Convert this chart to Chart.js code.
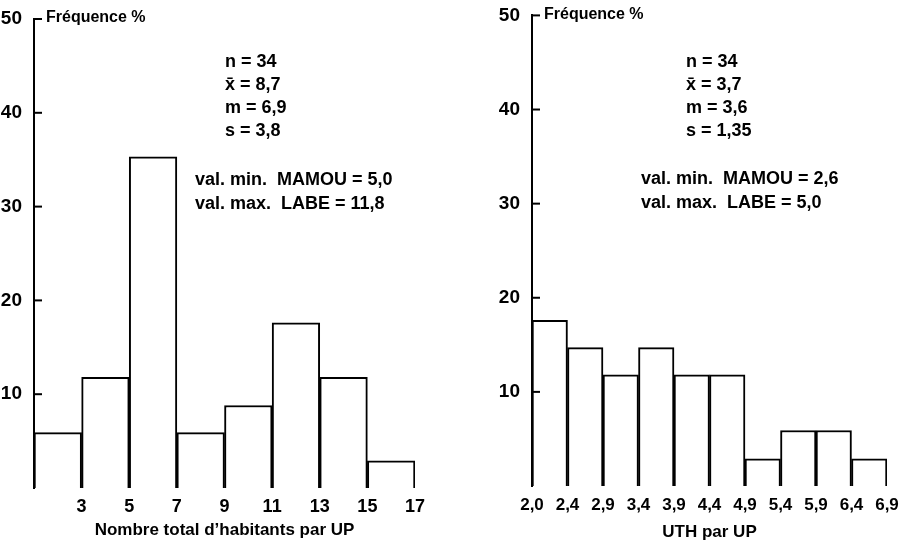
<!DOCTYPE html>
<html>
<head>
<meta charset="utf-8">
<script src="https://cdn.jsdelivr.net/npm/chart.js@4.4.1/dist/chart.umd.min.js"></script>
<style>
  body { margin: 0; background: #fff; }
  .wrap { position: absolute; top: 0; height: 541px; }
  #left { left: 0; width: 450px; }
  #right { left: 450px; width: 457px; }
</style>
</head>
<body>
<div class="wrap" id="left"><canvas id="c1" width="450" height="541"></canvas></div>
<div class="wrap" id="right"><canvas id="c2" width="457" height="541"></canvas></div>
<script>
// left histogram: total inhabitants per UP (bins of width 2)
const habEdges = [1, 3, 5, 7, 9, 11, 13, 15, 17];
const habFreq = [5.9, 11.8, 35.3, 5.9, 8.8, 17.6, 11.8, 2.9];

// right histogram: UTH per UP (drawn as equal-width classes)
const uthTicks = ['2,0', '2,4', '2,9', '3,4', '3,9', '4,4', '4,9', '5,4', '5,9', '6,4', '6,9'];
const uthFreq = [17.6, 14.7, 11.8, 14.7, 11.8, 11.8, 2.9, 5.9, 5.9, 2.9];

const yTicks = [10, 20, 30, 40, 50];

const habStats = ['n = 34', 'x\u0304 = 8,7', 'm = 6,9', 's = 3,8'];
const habMinMax = ['val. min.  MAMOU = 5,0', 'val. max.  LABE = 11,8'];
const uthStats = ['n = 34', 'x\u0304 = 3,7', 'm = 3,6', 's = 1,35'];
const uthMinMax = ['val. min.  MAMOU = 2,6', 'val. max.  LABE = 5,0'];

const FONT = "'Liberation Sans', Arial, sans-serif";
Chart.defaults.font.family = FONT;
Chart.defaults.color = '#000';

// inward tick marks on the y axis + text notes
const notes = {
  id: 'notes',
  afterDraw(chart, args, opts) {
    const ctx = chart.ctx;
    const y = chart.scales.y;
    const x0 = chart.chartArea.left;
    ctx.save();
    ctx.strokeStyle = '#000';
    ctx.lineWidth = 2;
    yTicks.forEach(v => {
      const py = y.getPixelForValue(v);
      ctx.beginPath();
      ctx.moveTo(x0 - 1, py);
      ctx.lineTo(x0 + 8, py);
      ctx.stroke();
    });
    ctx.fillStyle = '#000';
    ctx.textBaseline = 'middle';
    ctx.font = 'bold 16px ' + FONT;
    ctx.fillText('Fréquence %', x0 + 12, y.getPixelForValue(50) - 1);
    ctx.font = 'bold 18px ' + FONT;
    opts.stats.forEach((t, i) => ctx.fillText(t, opts.sx, opts.sy + i * 23));
    opts.minmax.forEach((t, i) => ctx.fillText(t, opts.mx, opts.my + i * 24));
    ctx.restore();
  }
};

function makeChart(id, data, xScale, cfg) {
  return new Chart(document.getElementById(id), {
    type: 'bar',
    data: {
      datasets: [{
        data: data,
        backgroundColor: '#fff',
        borderColor: '#000',
        borderWidth: 2,
        barPercentage: 1,
        categoryPercentage: 1
      }]
    },
    options: {
      responsive: false,
      animation: false,
      layout: { padding: { top: cfg.top, right: cfg.right, left: 0, bottom: 0 } },
      plugins: {
        legend: { display: false },
        tooltip: { enabled: false },
        notes: cfg.notes
      },
      scales: {
        x: Object.assign({
          type: 'linear',
          offset: false,
          grid: { display: false, offset: false },
          border: { display: false },
          afterFit: s => { s.height = cfg.xh; }
        }, xScale),
        y: {
          min: 0,
          max: 50,
          ticks: {
            stepSize: 10,
            padding: 4,
            font: { size: 19, weight: 'bold' },
            callback: v => (v === 0 ? '' : v)
          },
          grid: { display: false },
          border: { display: true, color: '#000', width: 2 },
          afterFit: s => { s.width = cfg.yw; }
        }
      }
    },
    plugins: [notes]
  });
}

const habData = habFreq.map((v, i) => ({ x: (habEdges[i] + habEdges[i + 1]) / 2, y: v }));
makeChart('c1', habData, {
  min: habEdges[0],
  max: habEdges[habEdges.length - 1],
  ticks: {
    stepSize: 2,
    padding: 0,
    maxRotation: 0,
    font: { size: 18, weight: 'bold' },
    callback: v => (v === habEdges[0] ? '' : v)
  },
  title: {
    display: true,
    text: 'Nombre total d\u2019habitants par UP',
    font: { size: 17, weight: 'bold' },
    padding: { top: 0, bottom: 0 }
  }
}, {
  top: 19, right: 35, yw: 34, xh: 53,
  notes: { stats: habStats, minmax: habMinMax, sx: 225, sy: 62, mx: 195, my: 180 }
});

const uthData = uthFreq.map((v, i) => ({ x: i + 0.5, y: v }));
makeChart('c2', uthData, {
  min: 0,
  max: uthTicks.length - 1,
  ticks: {
    stepSize: 1,
    padding: 1,
    maxRotation: 0,
    autoSkip: false,
    font: { size: 17, weight: 'bold' },
    callback: v => uthTicks[v]
  },
  title: {
    display: true,
    text: 'UTH par UP',
    font: { size: 17, weight: 'bold', lineHeight: 1 },
    padding: { top: 0, bottom: 0 }
  }
}, {
  top: 15, right: 20, yw: 82, xh: 55,
  notes: { stats: uthStats, minmax: uthMinMax, sx: 236, sy: 62, mx: 191, my: 179 }
});
</script>
</body>
</html>
